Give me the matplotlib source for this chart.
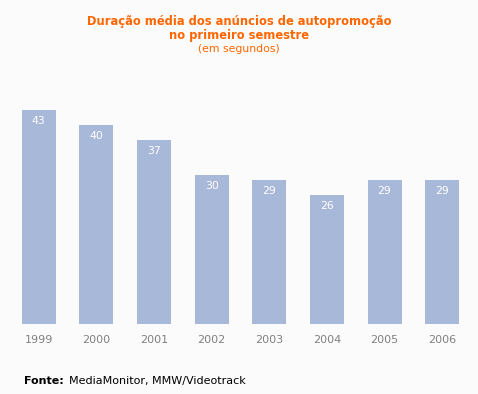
import matplotlib.pyplot as plt

years = ['1999', '2000', '2001', '2002', '2003', '2004', '2005', '2006']
seconds = [43, 40, 37, 30, 29, 26, 29, 29]

bg = '#fbfbfb'
bar_color = '#a8b8d8'
orange = '#ff6600'

fig = plt.figure(figsize=(4.78, 3.94), dpi=100, facecolor=bg)
W, H = 478, 394
ax = fig.add_axes([10 / W, 70 / H, 461 / W, 249 / H], facecolor=bg)

x = range(len(years))
ax.bar(x, seconds, width=0.59, color=bar_color)
for xi, v in zip(x, seconds):
    ax.annotate(str(v), (xi, v), xytext=(0, -11), textcoords='offset pixels',
                ha='center', va='center', color='white', fontsize=7.8)

ax.set_xlim(-0.5, 7.5)
ax.set_ylim(0, 50)
ax.set_xticks(list(x))
ax.set_xticklabels(years, color='#808080', fontsize=8)
ax.tick_params(axis='x', length=0, pad=8)
ax.set_yticks([])
for s in ax.spines.values():
    s.set_visible(False)

fig.text(0.5, 1 - 21 / H, 'Duração média dos anúncios de autopromoção',
         ha='center', va='center', color=orange, fontsize=8.3, fontweight='bold')
fig.text(0.5, 1 - 36 / H, 'no primeiro semestre',
         ha='center', va='center', color=orange, fontsize=8.3, fontweight='bold')
fig.text(0.5, 1 - 49 / H, '(em segundos)',
         ha='center', va='center', color=orange, fontsize=7.8)

fig.text(24 / W, 1 - 381 / H, 'Fonte:', ha='left', va='center',
         fontsize=8, fontweight='bold')
fig.text(69 / W, 1 - 381 / H, 'MediaMonitor, MMW/Videotrack',
         ha='left', va='center', fontsize=8)

fig.savefig('out.png', dpi=100, facecolor=bg)
